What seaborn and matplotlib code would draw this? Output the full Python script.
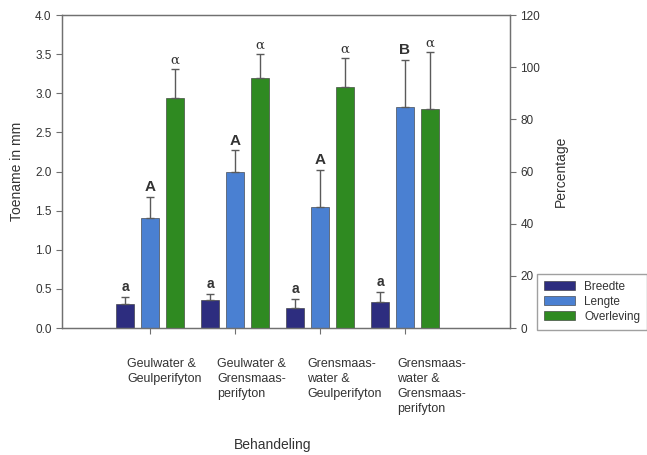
import numpy as np
import pandas as pd
import matplotlib.pyplot as plt
import matplotlib.patches as mpatches
from matplotlib import transforms
from matplotlib.container import BarContainer
import seaborn as sns

# gegevens
behandeling = ['Geulwater &\nGeulperifyton',
               'Geulwater &\nGrensmaas-\nperifyton',
               'Grensmaas-\nwater &\nGeulperifyton',
               'Grensmaas-\nwater &\nGrensmaas-\nperifyton']
breedte = [0.31, 0.36, 0.25, 0.33]
breedte_err = [0.09, 0.08, 0.12, 0.13]
lengte = [1.40, 2.00, 1.55, 2.82]
lengte_err = [0.28, 0.27, 0.47, 0.61]
overleving = [88.0, 96.0, 92.3, 84.0]          # percentage (rechter as)
overleving_err = [11.3, 9.0, 11.1, 21.7]
letters_breedte = ['a', 'a', 'a', 'a']
letters_lengte = ['A', 'A', 'A', 'B']
letters_overleving = ['α', 'α', 'α', 'α']

reeksen = ['Breedte', 'Lengte', 'Overleving']
kleuren = {'Breedte': '#2d2d7f', 'Lengte': '#4a80d2', 'Overleving': '#2f8a21'}

df = pd.DataFrame({'behandeling': behandeling * 3,
                   'reeks': ['Breedte'] * 4 + ['Lengte'] * 4 + ['Overleving'] * 4,
                   'waarde': breedte + lengte + overleving})

sns.set_style('ticks')
plt.rcParams['font.family'] = ['Liberation Sans', 'DejaVu Sans']
tekstkleur = '#333333'
askleur = '#707070'

fig = plt.figure(figsize=(6.47, 4.55), dpi=100)
ax = fig.add_axes([0.0958, 0.279, 0.6924, 0.688])
ax2 = ax.twinx()

# zelfde barplot op beide assen; per as alleen de eigen reeksen tonen
opties = dict(x='behandeling', y='waarde', hue='reeks', hue_order=reeksen,
              order=behandeling, palette=kleuren, saturation=1, width=0.88,
              gap=0.25, errorbar=None, legend=False, edgecolor='#303030',
              linewidth=0.4)
sns.barplot(data=df, ax=ax, **opties)
sns.barplot(data=df, ax=ax2, **opties)


def staven(as_):
    return [c for c in as_.containers if isinstance(c, BarContainer)]


c_mm = staven(ax)
c_pct = staven(ax2)
for b in c_mm[2].patches:
    b.set_visible(False)
for c in c_pct[:2]:
    for b in c.patches:
        b.set_visible(False)


def foutbalken(as_, container, waarden, fouten, letters, **tekst):
    bars = sorted(container.patches, key=lambda b: b.get_x())
    x = [b.get_x() + b.get_width() / 2 for b in bars]
    as_.errorbar(x, waarden, yerr=[np.zeros(len(fouten)), fouten], fmt='none',
                 ecolor='#5a5a5a', elinewidth=1, capsize=3, capthick=1, zorder=3)
    for xi, w, f, l in zip(x, waarden, fouten, letters):
        as_.annotate(l, (xi, w + f), xytext=(0, 2), textcoords='offset points',
                     ha='center', va='bottom', color=tekstkleur, **tekst)


foutbalken(ax, c_mm[0], breedte, breedte_err, letters_breedte,
           fontsize=10, fontweight='bold')
foutbalken(ax, c_mm[1], lengte, lengte_err, letters_lengte,
           fontsize=11, fontweight='bold')
foutbalken(ax2, c_pct[2], overleving, overleving_err, letters_overleving,
           fontsize=9.5, family='DejaVu Serif')

ax.set_ylim(0, 4)
ax.set_yticks(np.arange(0, 4.01, 0.5))
ax.set_yticklabels([f'{v:.1f}' for v in np.arange(0, 4.01, 0.5)])
ax2.set_ylim(0, 120)
ax2.set_yticks(range(0, 121, 20))
ax.set_xlim(-1.035, 4.235)
ax.set_xticks(range(len(behandeling)))
ax.set_xticklabels([''] * len(behandeling))

for a in (ax, ax2):
    a.tick_params(axis='both', colors=askleur, labelcolor=tekstkleur,
                  labelsize=8.5, length=4, width=0.8)
    for s in a.spines.values():
        s.set_color(askleur)
        s.set_linewidth(0.9)

ax.set_xlabel('')
ax.set_ylabel('Toename in mm', fontsize=10, color=tekstkleur, labelpad=8)
ax2.set_xlabel('')
ax2.set_ylabel('Percentage', fontsize=10, color=tekstkleur, labelpad=10)

trans = transforms.blended_transform_factory(ax.transData, ax.transAxes)
for i, lab in enumerate(behandeling):
    ax.text(i * 1.06 - 0.27, -0.095, lab, transform=trans, ha='left', va='top',
            fontsize=9, color=tekstkleur, linespacing=1.35)

fig.text(273 / 647, 1 - 445 / 455, 'Behandeling', ha='center', va='center',
         fontsize=10, color=tekstkleur)

handles = [mpatches.Patch(facecolor=kleuren[r], edgecolor='#303030',
                          linewidth=0.4, label=r) for r in reeksen]
fig.legend(handles=handles, loc='lower left',
           bbox_to_anchor=(537 / 647, 1 - 330 / 455), frameon=True,
           fancybox=False, edgecolor='#888888', fontsize=8.5,
           handlelength=2.6, handleheight=0.8, borderpad=0.6,
           labelspacing=0.25, labelcolor=tekstkleur, borderaxespad=0)

fig.savefig('out.png', dpi=100)
